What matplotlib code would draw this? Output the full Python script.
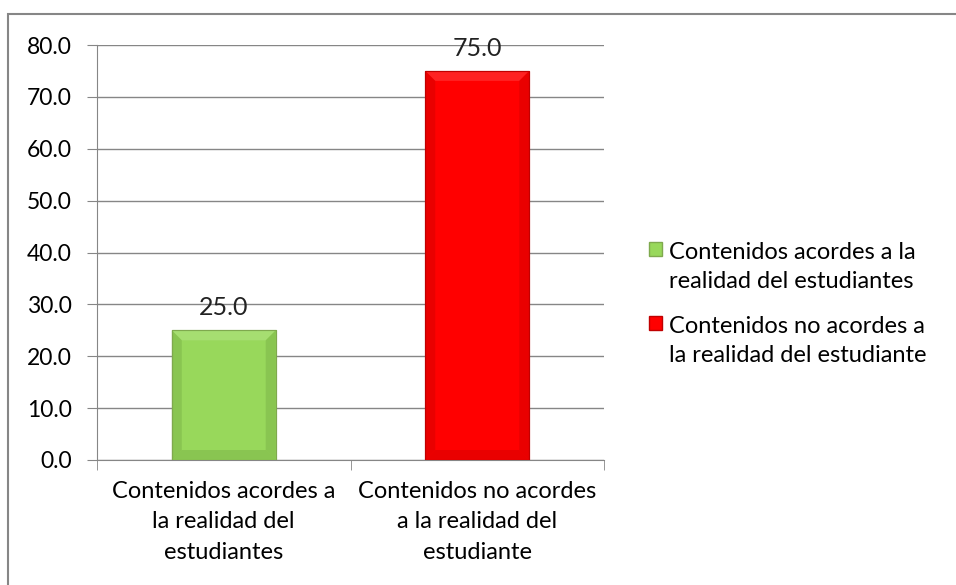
import matplotlib
matplotlib.use("Agg")
import matplotlib.pyplot as plt
from matplotlib.patches import Rectangle, Patch, Polygon
from matplotlib.legend_handler import HandlerPatch

categories = ["Contenidos acordes a\nla realidad del\nestudiantes",
              "Contenidos no acordes\na la realidad del\nestudiante"]
legend_labels = ["Contenidos acordes a la\nrealidad del estudiantes",
                 "Contenidos no acordes a\nla realidad del estudiante"]
values = [25.0, 75.0]
colors = ["#98D85B", "#FF0000"]
light_colors = ["#B8E68E", "#FF4A4A"]
dark_colors = ["#78AE45", "#D00000"]
edge_colors = ["#7FA94E", "#C00000"]
yticks = [0, 10, 20, 30, 40, 50, 60, 70, 80]

plt.rcParams['font.family'] = ['Lato', 'DejaVu Sans']
fs = 17

fig = plt.figure(figsize=(9.56, 5.85), dpi=100)
fig.patches.append(Rectangle((8/956, -0.1), 1.2, 1 - 14/585 + 0.1,
                             transform=fig.transFigure, fill=False,
                             edgecolor="#868686", linewidth=1.5))

ax = fig.add_axes([97/956, 1 - 460/585, 507/956, 415/585])
x = list(range(len(values)))
bars = ax.bar(x, values, width=0.41, color=colors, edgecolor=edge_colors,
              linewidth=0.8, zorder=3)

ax.set_xlim(-0.5, len(values) - 0.5)
ax.set_ylim(0, 80)

# subtle bevel effect derived from bar geometry (in pixel space)
fig.canvas.draw()
b = 10  # pixels
inv = ax.transData.inverted()
for bar, lc, dc in zip(bars, light_colors, dark_colors):
    x0, y0 = ax.transData.transform((bar.get_x(), 0))
    x1, y1 = ax.transData.transform((bar.get_x() + bar.get_width(), bar.get_height()))
    quads = [
        ([(x0, y1), (x1, y1), (x1 - b, y1 - b), (x0 + b, y1 - b)], lc),
        ([(x0, y0), (x0, y1), (x0 + b, y1 - b), (x0 + b, y0 + b)], dc),
        ([(x1, y0), (x1, y1), (x1 - b, y1 - b), (x1 - b, y0 + b)], dc),
        ([(x0, y0), (x1, y0), (x1 - b, y0 + b), (x0 + b, y0 + b)], dc),
    ]
    for pts, c in quads:
        dpts = [tuple(inv.transform(p)) for p in pts]
        ax.add_patch(Polygon(dpts, closed=True, facecolor=c, edgecolor="none",
                             alpha=0.45, zorder=3.5))
    ax.add_patch(Rectangle((bar.get_x(), 0), bar.get_width(), bar.get_height(),
                           fill=False, edgecolor=bar.get_edgecolor(),
                           linewidth=0.8, zorder=3.6))

for xi, v in zip(x, values):
    ax.annotate(f"{v:.1f}", (xi, v), xytext=(0, 8), textcoords="offset points",
                ha="center", va="bottom", fontsize=18, color="#222222", zorder=4)

ax.set_yticks(yticks)
ax.set_yticklabels([f"{t:.1f}" for t in yticks], fontsize=16.5)
ax.yaxis.grid(True, color="#868686", linewidth=1)
ax.set_axisbelow(True)
ax.set_xticks(x)
ax.set_xticklabels(categories, fontsize=fs, linespacing=1.55)
ax.tick_params(axis="x", length=0, pad=15)
ax.set_xticks([-0.5, 0.5, 1.5], minor=True)
ax.tick_params(axis="x", which="minor", length=7, color="#868686")
ax.tick_params(axis="y", length=7, color="#868686", pad=11)
for s in ["top", "right"]:
    ax.spines[s].set_visible(False)
for s in ["left", "bottom"]:
    ax.spines[s].set_color("#868686")


def top_square(legend, orig_handle, xdescent, ydescent, width, height, fontsize):
    return Rectangle((-xdescent, -ydescent + 0.78 * fontsize), width, height)


handles = [Patch(facecolor=c, edgecolor=e) for c, e in zip(colors, edge_colors)]
leg = fig.legend(handles, legend_labels, loc="center left",
                 bbox_to_anchor=(628/956, 1 - 304/585), frameon=False, fontsize=fs,
                 handlelength=0.55, handleheight=0.55, handletextpad=0.3,
                 labelspacing=1.0,
                 handler_map={Patch: HandlerPatch(patch_func=top_square)})
for t in leg.get_texts():
    t.set_linespacing(1.5)

fig.savefig("out.png", dpi=100)
